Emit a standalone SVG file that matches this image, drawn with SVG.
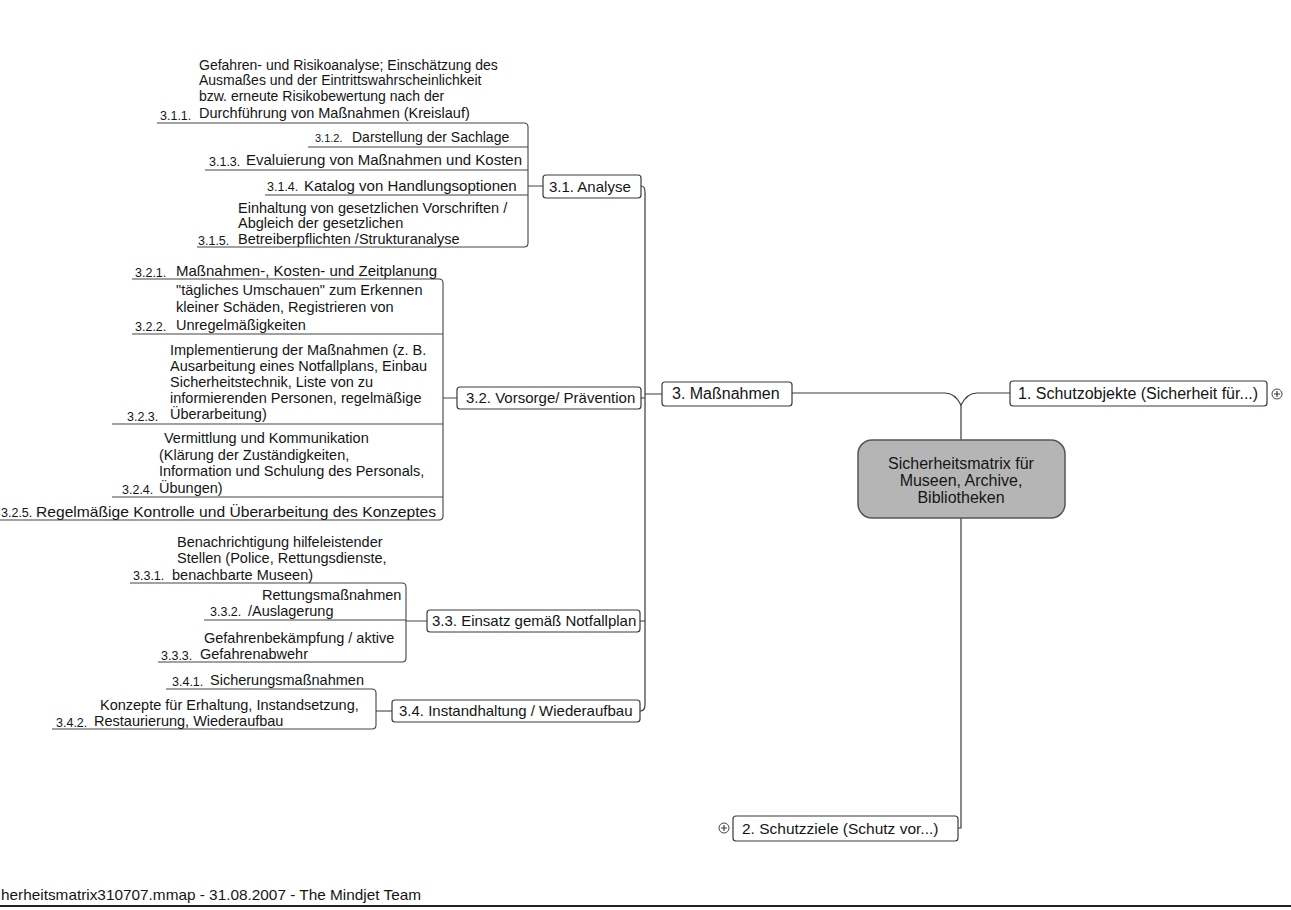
<svg xmlns="http://www.w3.org/2000/svg" width="1291" height="910" viewBox="0 0 1291 910">
<style>
text{font-family:"Liberation Sans",Arial,sans-serif;font-size:14.5px;fill:#151515}
.b{font-size:15px}
.m{font-size:16px}
.n{font-size:12.5px}
.box{fill:#fff;stroke:#3a3a3a;stroke-width:1.2}
.ln{fill:none;stroke:#3a3a3a;stroke-width:1.2}
.ul{fill:none;stroke:#444;stroke-width:1.1}
.icon{fill:#fff;stroke:#444;stroke-width:1}
</style>
<rect width="1291" height="910" fill="#fff"/>

<g id="connectors">
  <path class="ln" d="M792,393 H945 Q955,393 961,405 Q967,393 977,393 H1010"/>
  <path class="ln" d="M961,405 V440"/>
  <path class="ln" d="M961,518 V828 H958"/>
  <path class="ln" d="M641,186 Q645,186 645,192 V705 Q645,711 640,711"/>
  <path class="ln" d="M641,398 H645 M645,394 H662 M640,621 H645"/>
  <path class="ul" d="M157,123 H524 Q528,123 528,127 V243 Q528,247 524,247 H197"/>
  <path class="ul" d="M308,147 H528 M205,170 H528 M265,195 H528 M528,186 H543"/>
  <path class="ul" d="M132,279 H439 Q443,279 443,283 V516 Q443,520 439,520 H0"/>
  <path class="ul" d="M132,334 H443 M112,424 H443 M112,497 H443 M443,398 H457"/>
  <path class="ul" d="M130,583 H402 Q406,583 406,587 V658 Q406,662 402,662 H158"/>
  <path class="ul" d="M204,620 H406 M406,621 H427"/>
  <path class="ul" d="M166,689 H372 Q376,689 376,693 V725 Q376,729 372,729 H52"/>
  <path class="ul" d="M376,711 H392"/>
</g>

<g id="central">
  <rect x="858" y="440" width="207" height="78" rx="14" fill="#b5b5b5" stroke="#555" stroke-width="1.5"/>
  <text x="961" y="469" text-anchor="middle" class="m">Sicherheitsmatrix für</text>
  <text x="961" y="486" text-anchor="middle" class="m">Museen, Archive,</text>
  <text x="961" y="503" text-anchor="middle" class="m">Bibliotheken</text>
</g>

<g id="n1">
  <rect class="box" x="1010" y="381" width="257" height="25" rx="3"/>
  <text x="1018" y="399" class="m">1. Schutzobjekte (Sicherheit für...)</text>
  <circle class="icon" cx="1277" cy="394" r="5"/>
  <path class="ln" d="M1274,394 H1280 M1277,391 V397"/>
</g>

<g id="n2">
  <rect class="box" x="733" y="816" width="225" height="25" rx="3"/>
  <text x="742" y="834" style="font-size:15.5px">2. Schutzziele (Schutz vor...)</text>
  <circle class="icon" cx="724" cy="828" r="5"/>
  <path class="ln" d="M721,828 H727 M724,825 V831"/>
</g>

<g id="n3">
  <rect class="box" x="662" y="382" width="130" height="24" rx="3"/>
  <text x="672" y="399" class="m">3. Maßnahmen</text>
</g>

<g id="n31">
  <rect class="box" x="543" y="175" width="98" height="23" rx="3"/>
  <text x="549" y="192" class="b">3.1. Analyse</text>
</g>
<g id="n311">
  <text x="199" y="70" style="font-size:14px">Gefahren- und Risikoanalyse; Einschätzung des</text>
  <text x="199" y="85" style="font-size:14px">Ausmaßes und der Eintrittswahrscheinlichkeit</text>
  <text x="199" y="101" style="font-size:14px">bzw. erneute Risikobewertung nach der</text>
  <text x="199" y="118">Durchführung von Maßnahmen (Kreislauf)</text>
  <text x="160" y="120" class="n">3.1.1.</text>
</g>
<g id="n312">
  <text x="315" y="142" style="font-size:11px">3.1.2.</text>
  <text x="352" y="142" style="font-size:14px">Darstellung der Sachlage</text>
</g>
<g id="n313">
  <text x="209" y="166" class="n">3.1.3.</text>
  <text x="246" y="165" class="b">Evaluierung von Maßnahmen und Kosten</text>
</g>
<g id="n314">
  <text x="267" y="191" class="n">3.1.4.</text>
  <text x="304" y="191" class="b">Katalog von Handlungsoptionen</text>
</g>
<g id="n315">
  <text x="238" y="213">Einhaltung von gesetzlichen Vorschriften /</text>
  <text x="238" y="228">Abgleich der gesetzlichen</text>
  <text x="238" y="244">Betreiberpflichten /Strukturanalyse</text>
  <text x="198" y="245" class="n">3.1.5.</text>
</g>

<g id="n32">
  <rect class="box" x="457" y="387" width="184" height="22" rx="3"/>
  <text x="466" y="403" class="b">3.2. Vorsorge/ Prävention</text>
</g>
<g id="n321">
  <text x="135" y="277" class="n">3.2.1.</text>
  <text x="176" y="276" class="b">Maßnahmen-, Kosten- und Zeitplanung</text>
</g>
<g id="n322">
  <text x="176" y="295">"tägliches Umschauen" zum Erkennen</text>
  <text x="176" y="312">kleiner Schäden, Registrieren von</text>
  <text x="176" y="330">Unregelmäßigkeiten</text>
  <text x="135" y="331" class="n">3.2.2.</text>
</g>
<g id="n323">
  <text x="170" y="355">Implementierung der Maßnahmen (z. B.</text>
  <text x="170" y="371">Ausarbeitung eines Notfallplans, Einbau</text>
  <text x="170" y="387">Sicherheitstechnik, Liste von zu</text>
  <text x="170" y="403">informierenden Personen, regelmäßige</text>
  <text x="170" y="419">Überarbeitung)</text>
  <text x="127" y="421" class="n">3.2.3.</text>
</g>
<g id="n324">
  <text x="164" y="443">Vermittlung und Kommunikation</text>
  <text x="159" y="460">(Klärung der Zuständigkeiten,</text>
  <text x="159" y="476">Information und Schulung des Personals,</text>
  <text x="159" y="493">Übungen)</text>
  <text x="122" y="494" class="n">3.2.4.</text>
</g>
<g id="n325">
  <text x="1" y="517" class="n">3.2.5.</text>
  <text x="36" y="517" class="b" textLength="400" lengthAdjust="spacingAndGlyphs">Regelmäßige Kontrolle und Überarbeitung des Konzeptes</text>
</g>

<g id="n33">
  <rect class="box" x="427" y="610" width="213" height="22" rx="3"/>
  <text x="432" y="626" class="b">3.3. Einsatz gemäß Notfallplan</text>
</g>
<g id="n331">
  <text x="177" y="547">Benachrichtigung hilfeleistender</text>
  <text x="177" y="563">Stellen (Police, Rettungsdienste,</text>
  <text x="172" y="580">benachbarte Museen)</text>
  <text x="133" y="580" class="n">3.3.1.</text>
</g>
<g id="n332">
  <text x="262" y="600">Rettungsmaßnahmen</text>
  <text x="248" y="616">/Auslagerung</text>
  <text x="210" y="616" class="n">3.3.2.</text>
</g>
<g id="n333">
  <text x="204" y="643">Gefahrenbekämpfung / aktive</text>
  <text x="200" y="659">Gefahrenabwehr</text>
  <text x="161" y="660" class="n">3.3.3.</text>
</g>

<g id="n34">
  <rect class="box" x="392" y="700" width="248" height="22" rx="3"/>
  <text x="399" y="716" class="b">3.4. Instandhaltung / Wiederaufbau</text>
</g>
<g id="n341">
  <text x="172" y="686" class="n">3.4.1.</text>
  <text x="210" y="685">Sicherungsmaßnahmen</text>
</g>
<g id="n342">
  <text x="100" y="710">Konzepte für Erhaltung, Instandsetzung,</text>
  <text x="94" y="726">Restaurierung, Wiederaufbau</text>
  <text x="56" y="727" class="n">3.4.2.</text>
</g>

<g id="footer">
  <text x="1" y="900" style="font-size:15px" textLength="420" lengthAdjust="spacingAndGlyphs">herheitsmatrix310707.mmap - 31.08.2007 - The Mindjet Team</text>
  <path d="M0,906 H1291" stroke="#222" stroke-width="2"/>
</g>
</svg>
